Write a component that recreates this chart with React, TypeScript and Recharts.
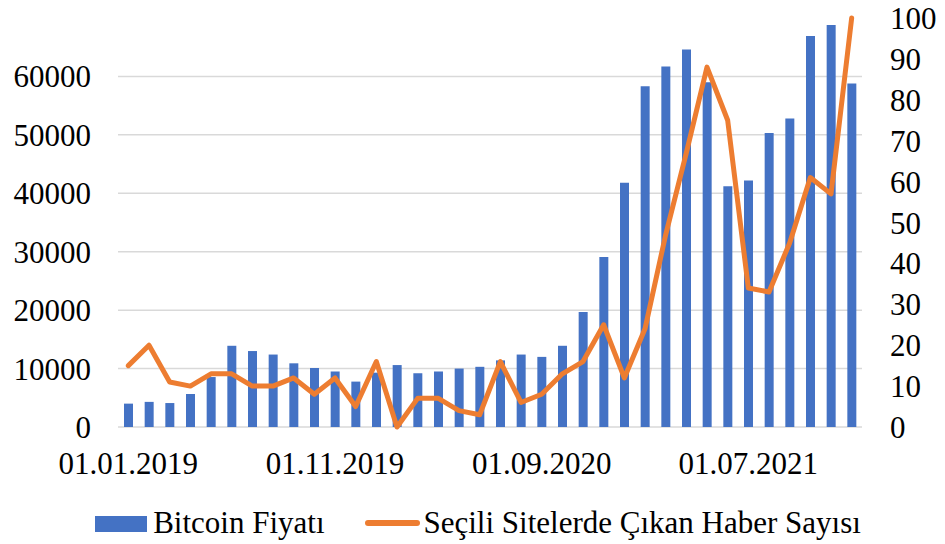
import React from 'react';
import { ComposedChart, Bar, Line, XAxis, YAxis, CartesianGrid, Legend } from 'recharts';

const months = [
  '01.01.2019', '01.02.2019', '01.03.2019', '01.04.2019', '01.05.2019', '01.06.2019',
  '01.07.2019', '01.08.2019', '01.09.2019', '01.10.2019', '01.11.2019', '01.12.2019',
  '01.01.2020', '01.02.2020', '01.03.2020', '01.04.2020', '01.05.2020', '01.06.2020',
  '01.07.2020', '01.08.2020', '01.09.2020', '01.10.2020', '01.11.2020', '01.12.2020',
  '01.01.2021', '01.02.2021', '01.03.2021', '01.04.2021', '01.05.2021', '01.06.2021',
  '01.07.2021', '01.08.2021', '01.09.2021', '01.10.2021', '01.11.2021', '01.12.2021',
];

const bitcoinPrice = [
  4000, 4300, 4100, 5650, 8550, 13900, 13000, 12400, 10900, 10100, 9500, 7770,
  9300, 10600, 9200, 9500, 10000, 10300, 11400, 12400, 12000, 13900, 19700, 29100,
  41800, 58300, 61700, 64600, 59000, 41200, 42200, 50300, 52800, 66900, 68800, 58800,
];

const newsCount = [
  15, 20, 11, 10, 13, 13, 10, 10, 12, 8, 12, 5,
  16, 0, 7, 7, 4, 3, 16, 6, 8, 13, 16, 25,
  12, 24, 47, 67, 88, 75, 34, 33, 45, 61, 57, 100,
];

const leftTicks = [0, 10000, 20000, 30000, 40000, 50000, 60000];
const rightTicks = [0, 10, 20, 30, 40, 50, 60, 70, 80, 90, 100];

const data = months.map((m, i) => ({
  month: m,
  price: bitcoinPrice[i],
  news: newsCount[i],
}));

const FONT = 'Liberation Serif, DejaVu Serif, Times New Roman, serif';
const BLUE = '#4472C4';
const ORANGE = '#ED7D31';

function ChartLegend() {
  return (
    <div
      style={{
        height: 44,
        display: 'flex',
        alignItems: 'center',
        justifyContent: 'center',
        fontFamily: FONT,
        fontSize: 31,
        lineHeight: 1,
        color: '#000',
        paddingLeft: 11,
      }}
    >
      <span style={{ display: 'inline-block', width: 52, height: 16, background: BLUE, marginRight: 6, marginTop: 4 }} />
      <span>Bitcoin Fiyatı</span>
      <span
        style={{
          display: 'inline-block',
          width: 55,
          height: 6,
          borderRadius: 3,
          background: ORANGE,
          marginLeft: 40,
          marginRight: 4,
          marginTop: 2,
        }}
      />
      <span>Seçili Sitelerde Çıkan Haber Sayısı</span>
    </div>
  );
}

export default function App() {
  return (
    <div style={{ position: 'absolute', left: 0, top: 0, width: 945, height: 544, background: '#fff' }}>
      <ComposedChart
        width={945}
        height={544}
        data={data}
        margin={{ top: 18, right: 0, bottom: 0, left: 0 }}
        barCategoryGap={0}
      >
        <CartesianGrid yAxisId="left" vertical={false} syncWithTicks stroke="#D9D9D9" strokeWidth={1.5} />
        <XAxis
          dataKey="month"
          interval={9}
          tickLine={false}
          axisLine={false}
          tickSize={0}
          tickMargin={25}
          height={73}
          tick={{ fill: '#000', fontSize: 31, fontFamily: FONT }}
        />
        <YAxis
          yAxisId="left"
          orientation="left"
          domain={[0, 70000]}
          ticks={leftTicks}
          interval={0}
          width={118}
          tickLine={false}
          axisLine={false}
          tickSize={0}
          tickMargin={27}
          tick={{ fill: '#000', fontSize: 31, fontFamily: FONT }}
        />
        <YAxis
          yAxisId="right"
          orientation="right"
          domain={[0, 100]}
          ticks={rightTicks}
          interval={0}
          width={83}
          tickLine={false}
          axisLine={false}
          tickSize={0}
          tickMargin={28}
          tick={{ fill: '#000', fontSize: 31, fontFamily: FONT, textAnchor: 'start' }}
        />
        <Legend verticalAlign="bottom" content={() => <ChartLegend />} />
        <Bar yAxisId="left" dataKey="price" fill={BLUE} barSize={9} isAnimationActive={false} />
        <Line
          yAxisId="right"
          dataKey="news"
          type="linear"
          stroke={ORANGE}
          strokeWidth={5}
          strokeLinejoin="round"
          strokeLinecap="round"
          dot={false}
          activeDot={false}
          isAnimationActive={false}
        />
      </ComposedChart>
    </div>
  );
}
